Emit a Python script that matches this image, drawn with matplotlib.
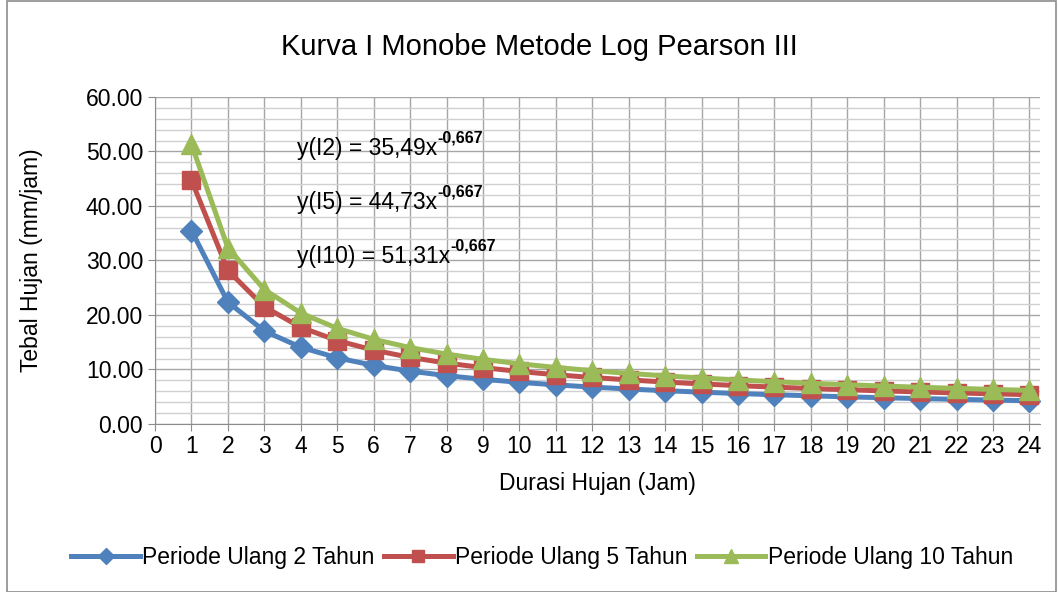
import matplotlib
matplotlib.use("Agg")
import matplotlib.pyplot as plt
from matplotlib.patches import Rectangle

# ---- data ----
durasi = list(range(1, 25))
i2 = [35.49, 22.36, 17.06, 14.08, 12.14, 10.75, 9.70, 8.87, 8.20, 7.65, 7.18, 6.77,
      6.42, 6.11, 5.84, 5.59, 5.37, 5.17, 4.98, 4.82, 4.66, 4.52, 4.39, 4.27]
i5 = [44.73, 28.18, 21.50, 17.75, 15.30, 13.55, 12.22, 11.18, 10.34, 9.64, 9.04, 8.53,
      8.09, 7.70, 7.35, 7.04, 6.77, 6.51, 6.28, 6.07, 5.88, 5.70, 5.53, 5.38]
i10 = [51.31, 32.32, 24.67, 20.36, 17.55, 15.54, 14.02, 12.83, 11.86, 11.05, 10.37, 9.79,
       9.28, 8.83, 8.44, 8.08, 7.76, 7.47, 7.21, 6.96, 6.74, 6.54, 6.34, 6.17]
labels = ["Periode Ulang 2 Tahun", "Periode Ulang 5 Tahun", "Periode Ulang 10 Tahun"]
persamaan = ["y(I2) = 35,49x", "y(I5) = 44,73x", "y(I10) = 51,31x"]
pangkat = "-0,667"
posisi_teks = [(3.9, 50.6), (3.9, 40.7), (3.9, 30.8)]

plt.rcParams["font.family"] = ["Liberation Sans", "DejaVu Sans"]

fs = 16.5

fig = plt.figure(figsize=(10.59, 5.92), dpi=100)
fig.patches.append(Rectangle((0.007, 0.0), 0.99, 0.998, transform=fig.transFigure,
                             fill=False, edgecolor="#8c8c8c", linewidth=1.2))
ax = fig.add_axes([0.1464, 0.2838, 0.836, 0.5524])

warna = ["#4F81BD", "#C0504D", "#9BBB59"]
marker = ["D", "s", "^"]
ms = [11, 13, 14]
for ys, c, m, s, lb in zip([i2, i5, i10], warna, marker, ms, labels):
    ax.plot(durasi, ys, color=c, marker=m, markersize=s, linewidth=3.6, label=lb, zorder=3)

ax.set_xlim(0, 24.3)
ax.set_ylim(0, 60)
ax.set_xticks(range(0, 25))
ax.set_yticks(range(0, 61, 10))
ax.set_yticks(range(0, 61, 2), minor=True)
ax.set_yticklabels([f"{v:.2f}" for v in range(0, 61, 10)])
ax.grid(True, which="major", color="#a6a6a6", linewidth=1.0, zorder=0)
ax.grid(True, which="minor", axis="y", color="#d0d0d0", linewidth=1.0, zorder=0)
ax.tick_params(axis="both", which="major", labelsize=fs, length=5, color="#8c8c8c")
ax.tick_params(axis="y", which="minor", length=0)
ax.tick_params(axis="x", pad=3)
for sp in ["top", "right"]:
    ax.spines[sp].set_visible(False)
for sp in ["left", "bottom"]:
    ax.spines[sp].set_color("#8c8c8c")

# persamaan + pangkat (superscript tebal, kecil)
for teks, (tx, ty) in zip(persamaan, posisi_teks):
    t = ax.text(tx, ty, teks, fontsize=fs, va="center", ha="left", zorder=4)
    ax.annotate(pangkat, xy=(1.0, 0.62), xycoords=t, fontsize=11.5, fontweight="bold",
                ha="left", va="bottom", zorder=4)

fig.text(539 / 1059, 1 - 47 / 592, "Kurva I Monobe Metode Log Pearson III",
         fontsize=21, ha="center", va="center")
ax.set_xlabel("Durasi Hujan (Jam)", fontsize=fs, labelpad=10)
ax.set_ylabel("Tebal Hujan (mm/jam)", fontsize=fs)
ax.yaxis.set_label_coords(-0.126, 0.5)

fig.legend(loc="center", bbox_to_anchor=(0.512, 0.058), ncol=3, frameon=False,
           fontsize=fs, handlelength=3.0, handletextpad=0.1, columnspacing=0.4,
           markerscale=0.7)

fig.savefig("out.png", dpi=100)
